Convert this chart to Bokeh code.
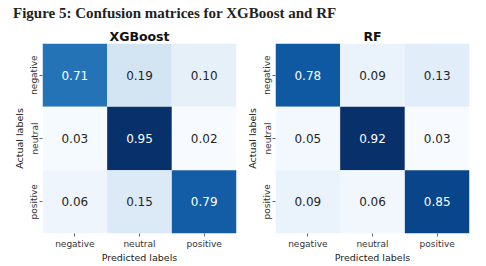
from bokeh.plotting import figure
from bokeh.models import ColumnDataSource, LinearColorMapper, Div, FactorRange
from bokeh.layouts import column, row
from bokeh.palettes import Blues256
from bokeh.embed import file_html
from bokeh.resources import INLINE
from bokeh.core.properties import value
from bokeh.transform import transform

fig_title = "Figure 5: Confusion matrices for XGBoost and RF"
labels = ["negative", "neutral", "positive"]
xgb_title = "XGBoost"
xgb = [[0.71, 0.19, 0.10],
       [0.03, 0.95, 0.02],
       [0.06, 0.15, 0.79]]
rf_title = "RF"
rf = [[0.78, 0.09, 0.13],
      [0.05, 0.92, 0.03],
      [0.09, 0.06, 0.85]]

pal = list(Blues256)
if pal[0].lower() == "#08306b":
    pal.reverse()

SANS = "DejaVu Sans"


def make(mat, title, width, bl, br):
    vals = [v for r in mat for v in r]
    lo, hi = min(vals), max(vals)
    xs, ys, vs, ts, tc = [], [], [], [], []
    for i, a in enumerate(labels):
        for j, pr in enumerate(labels):
            v = mat[i][j]
            xs.append(pr)
            ys.append(a)
            vs.append(v)
            ts.append(f"{v:.2f}")
            tc.append("#ffffff" if (v - lo) / (hi - lo) > 0.5 else "#262626")
    src = ColumnDataSource(dict(x=xs, y=ys, v=vs, t=ts, c=tc))
    mapper = LinearColorMapper(palette=pal, low=lo, high=hi)
    p = figure(width=width, height=242, output_backend="svg", toolbar_location=None,
               x_range=FactorRange(*labels), y_range=FactorRange(*reversed(labels)),
               min_border_left=bl, min_border_right=br, min_border_top=19, min_border_bottom=33,
               title=title)
    p.rect(x="x", y="y", width=1, height=1, source=src,
           fill_color=transform("v", mapper), line_color=None)
    p.text(x="x", y="y", text="t", text_color="c", source=src,
           text_align="center", text_baseline="middle",
           text_font=value(SANS), text_font_size=value("12px"))
    p.title.align = "center"
    p.title.text_font = SANS
    p.title.text_font_size = "12.5px"
    p.title.text_font_style = "bold"
    p.title.text_color = "#111111"
    p.title.standoff = 0
    p.outline_line_color = None
    p.grid.visible = False
    for ax in (p.xaxis[0], p.yaxis[0]):
        ax.axis_line_color = None
        ax.major_tick_line_color = "#666666"
        ax.major_tick_out = 3
        ax.major_tick_in = 0
        ax.major_label_text_font = SANS
        ax.major_label_text_font_size = "9px"
        ax.major_label_text_color = "#333333"
        ax.axis_label_text_font = SANS
        ax.axis_label_text_font_size = "9.5px"
        ax.axis_label_text_font_style = "normal"
        ax.axis_label_text_color = "#1a1a1a"
    p.xaxis.major_label_standoff = 2
    p.xaxis.axis_label_standoff = 0
    p.yaxis.major_label_standoff = 0
    p.yaxis.axis_label_standoff = 2
    p.xaxis.axis_label = "Predicted labels"
    p.yaxis.axis_label = "Actual labels"
    p.yaxis.major_label_orientation = "vertical"
    return p


head = Div(text=fig_title, width=486, height=24,
           styles={"font-family": "Liberation Serif", "font-weight": "bold",
                   "font-size": "15px", "line-height": "15px", "color": "#231f20",
                   "padding-left": "13px", "padding-top": "6px", "box-sizing": "border-box",
                   "margin": "0", "white-space": "nowrap"})
p1 = make(xgb, xgb_title, 240, 42, 4)
p2 = make(rf, rf_title, 246, 35, 17)
layout = column(head, row(p1, p2, spacing=0), spacing=0)

open("out.html", "w").write(file_html(layout, INLINE))
